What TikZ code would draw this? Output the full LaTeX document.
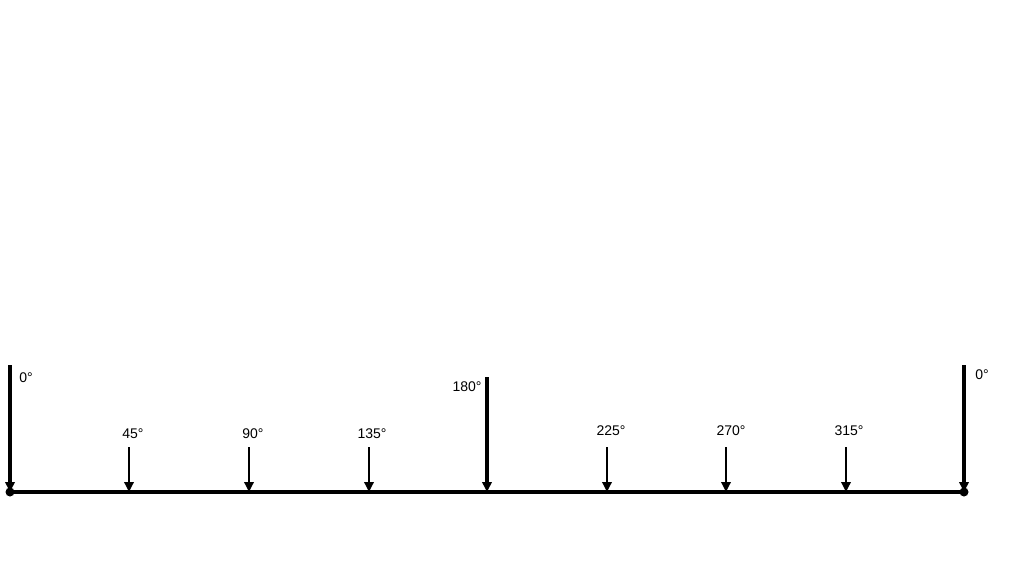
\documentclass[tikz,border=0pt]{standalone}
\usepackage{fontspec}
\setmainfont{Liberation Sans}
\usetikzlibrary{arrows.meta}

\begin{document}
\begin{tikzpicture}[x=0.75pt, y=-0.75pt, font=\fontsize{10.5}{12}\selectfont]
    \useasboundingbox (0,0) rectangle (1036,575);
    \tikzset{
        load/.style={line width=1.7pt, -{Triangle[length=7.5pt,width=7pt]}},
        bigload/.style={line width=2.5pt, -{Triangle[length=7.5pt,width=7pt]}},
        beam/.style={line width=2.6pt}
    }
    % beam ends
    \coordinate (L) at (10,492);
    \coordinate (R) at (964,492);
    % load points on the beam
    \coordinate (B45) at (129,492);
    \coordinate (B90) at (249,492);
    \coordinate (B135) at (369,492);
    \coordinate (B180) at (487,492);
    \coordinate (B225) at (607,492);
    \coordinate (B270) at (726,492);
    \coordinate (B315) at (846,492);
    % tops of the arrows
    \coordinate (T0) at (10,365);
    \coordinate (T45) at (129,447);
    \coordinate (T90) at (249,447);
    \coordinate (T135) at (369,447);
    \coordinate (T180) at (487,377);
    \coordinate (T225) at (607,447);
    \coordinate (T270) at (726,447);
    \coordinate (T315) at (846,447);
    \coordinate (T360) at (964,365);
    \draw[beam] (L) -- (R);
    \draw[bigload] (T0) -- (L);
    \draw[load] (T45) -- (B45);
    \draw[load] (T90) -- (B90);
    \draw[load] (T135) -- (B135);
    \draw[bigload] (T180) -- (B180);
    \draw[load] (T225) -- (B225);
    \draw[load] (T270) -- (B270);
    \draw[load] (T315) -- (B315);
    \draw[bigload] (T360) -- (R);
    \fill (L) circle (4.5);
    \fill (R) circle (4.5);
    \node (a0) at (26,378) {0°};
    \node (a45) at (133,434) {45°};
    \node (a90) at (253,434) {90°};
    \node (a135) at (372,434) {135°};
    \node (a180) at (467,387) {180°};
    \node (a225) at (611,431) {225°};
    \node (a270) at (731,431) {270°};
    \node (a315) at (849,431) {315°};
    \node (a360) at (982,375) {0°};
\end{tikzpicture}
\end{document}
